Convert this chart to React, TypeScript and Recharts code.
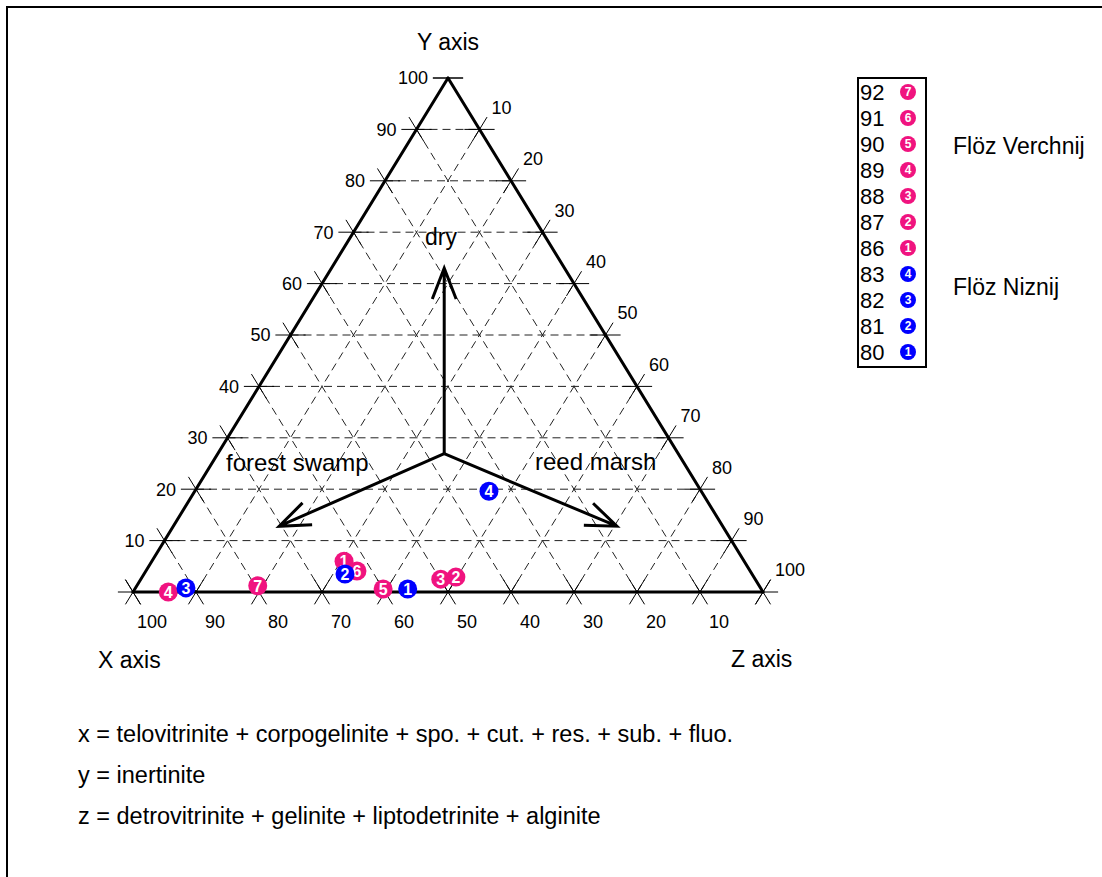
import React from 'react'
import { ScatterChart, Scatter, XAxis, YAxis, ReferenceLine, ReferenceDot } from 'recharts'

// coal samples, ternary composition in percent (x, y, z)
const verchnijSamples = [86, 87, 88, 89, 90, 91, 92]
const verchnijX = [63.5, 47.3, 49.9, 94.4, 60.0, 62.4, 79.6]
const verchnijY = [6.0, 2.9, 2.5, 0.0, 0.6, 4.1, 1.2]
const verchnijZ = [30.5, 49.8, 47.6, 5.6, 39.4, 33.5, 19.2]

const niznijSamples = [80, 81, 82, 83]
const niznijX = [56.1, 64.6, 91.2, 33.7]
const niznijY = [0.6, 3.5, 0.8, 19.6]
const niznijZ = [43.3, 31.9, 8.0, 46.7]

const gridSteps = [10, 20, 30, 40, 50, 60, 70, 80, 90]
const tickSteps = [0, 10, 20, 30, 40, 50, 60, 70, 80, 90, 100]
const bottomLabels = [100, 90, 80, 70, 60, 50, 40, 30, 20, 10]
const leftLabels = [10, 20, 30, 40, 50, 60, 70, 80, 90, 100]
const rightLabels = [10, 20, 30, 40, 50, 60, 70, 80, 90, 100]

// facies arrows: origin and the three tips (x, y, z)
const arrowOrigin = [37.15, 26.9, 35.95]
const arrowTips = [
  [19.1, 63.0, 17.9],
  [70.4, 12.8, 16.8],
  [16.8, 12.8, 70.4],
]

const formulas = [
  'x = telovitrinite + corpogelinite + spo. + cut. + res. + sub. + fluo.',
  'y = inertinite',
  'z = detrovitrinite + gelinite + liptodetrinite + alginite',
]

const PINK = '#f0137f'
const BLUE = '#0000ff'
const FONT = '"Liberation Sans", Arial, sans-serif'
const TICK = 2.4

// ternary -> plane (u along base, v = height), both 0..100
const plane = (x: number, y: number, z: number) => ({ x: z + y / 2, y })

const toPoints = (xs: number[], ys: number[], zs: number[], samples: number[]) =>
  samples.map((s, i) => {
    const sum = xs[i] + ys[i] + zs[i]
    const p = plane((xs[i] / sum) * 100, (ys[i] / sum) * 100, (zs[i] / sum) * 100)
    return { u: p.x, v: p.y, n: i + 1, sample: s }
  })

const verchnijPts = toPoints(verchnijX, verchnijY, verchnijZ, verchnijSamples)
const niznijPts = toPoints(niznijX, niznijY, niznijZ, niznijSamples)

type Seg = [{ x: number; y: number }, { x: number; y: number }]

const gridSegs: Seg[] = []
gridSteps.forEach(k => {
  gridSegs.push([plane(100 - k, k, 0), plane(0, k, 100 - k)])
  gridSegs.push([plane(100 - k, 0, k), plane(0, 100 - k, k)])
  gridSegs.push([plane(k, 0, 100 - k), plane(k, 100 - k, 0)])
})

// small crosses where grid lines meet the edges
const tickSegs: Seg[] = []
const cross = (p: number[], d: number[]) => {
  tickSegs.push([
    plane(p[0] - TICK * d[0], p[1] - TICK * d[1], p[2] - TICK * d[2]),
    plane(p[0] + TICK * d[0], p[1] + TICK * d[1], p[2] + TICK * d[2]),
  ])
}
const dirY = [-1, 0, 1]
const dirZ = [-1, 1, 0]
const dirX = [0, 1, -1]
tickSteps.forEach(k => {
  cross([100 - k, 0, k], dirZ)
  cross([100 - k, 0, k], dirX)
  cross([100 - k, k, 0], dirY)
  if (k < 100) {
    cross([100 - k, k, 0], dirX)
    cross([0, k, 100 - k], dirZ)
  }
  cross([0, k, 100 - k], dirY)
})

const edges: Seg[] = [
  [plane(100, 0, 0), plane(0, 0, 100)],
  [plane(100, 0, 0), plane(0, 100, 0)],
  [plane(0, 100, 0), plane(0, 0, 100)],
]

const Badge = ({ cx, cy, n, color, r, size }: any) => (
  <g>
    <circle cx={cx} cy={cy} r={r} fill={color} />
    <text x={cx} y={cy} dy="0.36em" textAnchor="middle" fill="#fff"
      fontWeight="bold" fontSize={size} fontFamily={FONT}>{n}</text>
  </g>
)

const Arrow = (props: any) => {
  const { x1, y1, x2, y2 } = props
  const a = Math.atan2(y2 - y1, x2 - x1)
  const L = 33
  const w = 0.37
  const ax = x2 - L * Math.cos(a - w), ay = y2 - L * Math.sin(a - w)
  const bx = x2 - L * Math.cos(a + w), by = y2 - L * Math.sin(a + w)
  return (
    <path d={`M${x1},${y1}L${x2},${y2}M${ax},${ay}L${x2},${y2}L${bx},${by}`}
      stroke="#000" strokeWidth={3} fill="none" />
  )
}

const tickText = (label: number, dx: number, dy: number, anchor: string) => (p: any) => (
  <text x={p.cx + dx} y={p.cy + dy} dy="0.36em" textAnchor={anchor}
    fontSize={18} fontFamily={FONT} fill="#000">{label}</text>
)

const Label = ({ left, top, children, size = 23, center = false }: any) => (
  <div style={{
    position: 'absolute', left, top: top - size / 2, fontSize: size, lineHeight: 1,
    fontFamily: FONT, whiteSpace: 'nowrap', color: '#000',
    transform: center ? 'translateX(-50%)' : undefined,
  }}>{children}</div>
)

const legendRows = [
  ...verchnijPts.map(p => ({ ...p, color: PINK })).reverse(),
  ...niznijPts.map(p => ({ ...p, color: BLUE })).reverse(),
]

export default function App() {
  return (
    <div style={{ position: 'absolute', left: 0, top: 0, width: 1102, height: 877, overflow: 'hidden', background: '#fff' }}>
      <svg width={1102} height={877} style={{ position: 'absolute', left: 0, top: 0 }}>
        <line x1={6} y1={7} x2={1102} y2={7} stroke="#000" strokeWidth={2} />
        <line x1={7} y1={6} x2={7} y2={877} stroke="#000" strokeWidth={2} />
      </svg>
      <ScatterChart width={1102} height={877} margin={{ top: 78, right: 339, bottom: 285, left: 133 }}
        style={{ position: 'absolute', left: 0, top: 0 }}>
        <XAxis type="number" dataKey="u" domain={[0, 100]} hide />
        <YAxis type="number" dataKey="v" domain={[0, 100]} hide />
        {gridSegs.map((s, i) => (
          <ReferenceLine key={`g${i}`} segment={s} stroke="#222" strokeWidth={1}
            strokeDasharray="8 5" ifOverflow="visible" />
        ))}
        {tickSegs.map((s, i) => (
          <ReferenceLine key={`t${i}`} segment={s} stroke="#000" strokeWidth={1} ifOverflow="visible" />
        ))}
        {edges.map((s, i) => (
          <ReferenceLine key={`e${i}`} segment={s} stroke="#000" strokeWidth={3}
            strokeLinecap="round" ifOverflow="visible" />
        ))}
        {arrowTips.map((t, i) => (
          <ReferenceLine key={`a${i}`} ifOverflow="visible"
            segment={[plane(arrowOrigin[0], arrowOrigin[1], arrowOrigin[2]), plane(t[0], t[1], t[2])]}
            shape={Arrow} />
        ))}
        {bottomLabels.map(l => {
          const p = plane(l, 0, 100 - l)
          return <ReferenceDot key={`bl${l}`} x={p.x} y={p.y} r={0} ifOverflow="visible"
            shape={tickText(l, 19, 30, 'middle')} />
        })}
        {leftLabels.map(l => {
          const p = plane(100 - l, l, 0)
          return <ReferenceDot key={`ll${l}`} x={p.x} y={p.y} r={0} ifOverflow="visible"
            shape={tickText(l, -20, 0, 'end')} />
        })}
        {rightLabels.map(l => {
          const p = plane(0, 100 - l, l)
          return <ReferenceDot key={`rl${l}`} x={p.x} y={p.y} r={0} ifOverflow="visible"
            shape={tickText(l, 12, -22, 'start')} />
        })}
        <Scatter data={verchnijPts} isAnimationActive={false}
          shape={(p: any) => <Badge cx={p.cx} cy={p.cy} n={p.payload.n} color={PINK} r={9.5} size={16} />} />
        <Scatter data={niznijPts} isAnimationActive={false}
          shape={(p: any) => <Badge cx={p.cx} cy={p.cy} n={p.payload.n} color={BLUE} r={9.5} size={16} />} />
      </ScatterChart>

      <Label left={448} top={42} center>Y axis</Label>
      <Label left={98} top={660}>X axis</Label>
      <Label left={731} top={659}>Z axis</Label>
      <Label left={441} top={237} center>dry</Label>
      <Label left={226} top={463} size={24}>forest swamp</Label>
      <Label left={535} top={462} size={24}>reed marsh</Label>
      {formulas.map((f, i) => (
        <Label key={i} left={78} top={735 + i * 41} size={23.5}>{f}</Label>
      ))}

      <div style={{ position: 'absolute', left: 857, top: 77, width: 66, height: 287, border: '2px solid #000' }}>
        <svg width={66} height={287} style={{ position: 'absolute', left: 0, top: 0 }}>
          {legendRows.map((r, i) => (
            <g key={i}>
              <text x={1} y={13 + i * 26} dy="0.36em" fontSize={22} fontFamily={FONT} fill="#000">{r.sample}</text>
              <Badge cx={49} cy={13 + i * 26} n={r.n} color={r.color} r={8} size={12} />
            </g>
          ))}
        </svg>
      </div>
      <Label left={953} top={146}>Flöz Verchnij</Label>
      <Label left={953} top={287}>Flöz Niznij</Label>
    </div>
  )
}
